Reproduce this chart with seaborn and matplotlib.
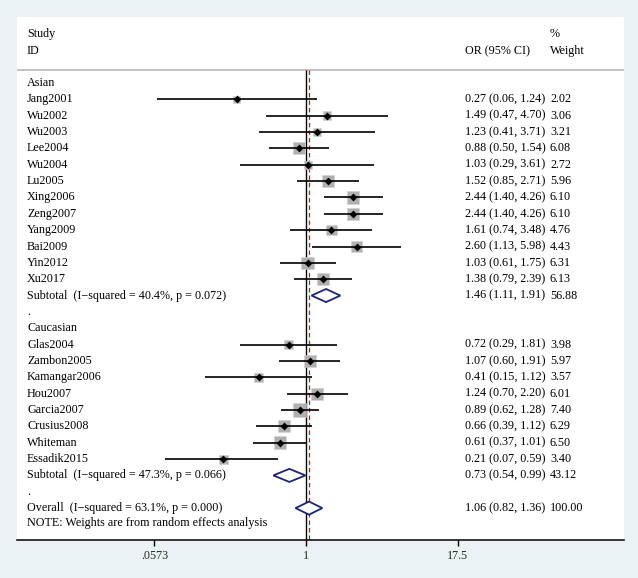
import numpy as np
import pandas as pd
import matplotlib
matplotlib.use("Agg")
import matplotlib.pyplot as plt
import seaborn as sns

# ---------------------------------------------
# Data
# ---------------------------------------------
asian_studies = ["Jang2001", "Wu2002", "Wu2003", "Lee2004", "Wu2004", "Lu2005",
                 "Xing2006", "Zeng2007", "Yang2009", "Bai2009", "Yin2012", "Xu2017"]
asian_or = [0.27, 1.49, 1.23, 0.88, 1.03, 1.52, 2.44, 2.44, 1.61, 2.60, 1.03, 1.38]
asian_lo = [0.06, 0.47, 0.41, 0.50, 0.29, 0.85, 1.40, 1.40, 0.74, 1.13, 0.61, 0.79]
asian_hi = [1.24, 4.70, 3.71, 1.54, 3.61, 2.71, 4.26, 4.26, 3.48, 5.98, 1.75, 2.39]
asian_w = [2.02, 3.06, 3.21, 6.08, 2.72, 5.96, 6.10, 6.10, 4.76, 4.43, 6.31, 6.13]

cauc_studies = ["Glas2004", "Zambon2005", "Kamangar2006", "Hou2007", "Garcia2007",
                "Crusius2008", "Whiteman", "Essadik2015"]
cauc_or = [0.72, 1.07, 0.41, 1.24, 0.89, 0.66, 0.61, 0.21]
cauc_lo = [0.29, 0.60, 0.15, 0.70, 0.62, 0.39, 0.37, 0.07]
cauc_hi = [1.81, 1.91, 1.12, 2.20, 1.28, 1.12, 1.01, 0.59]
cauc_w = [3.98, 5.97, 3.57, 6.01, 7.40, 6.29, 6.50, 3.40]

pooled_labels = ["Subtotal  (I\u2212squared = 40.4%, p = 0.072)",
                 "Subtotal  (I\u2212squared = 47.3%, p = 0.066)",
                 "Overall  (I\u2212squared = 63.1%, p = 0.000)"]
pooled_or = [1.46, 0.73, 1.06]
pooled_lo = [1.11, 0.54, 0.82]
pooled_hi = [1.91, 0.99, 1.36]
pooled_w = [56.88, 43.12, 100.00]

x_ticks = [0.0573, 1, 17.5]
x_ticklabels = [".0573", "1", "17.5"]

# ---------------------------------------------
# Row layout
# ---------------------------------------------
n_a, n_c = len(asian_studies), len(cauc_studies)
asian_rows = list(range(1, 1 + n_a))
sub_a_row = 1 + n_a
cauc_head_row = sub_a_row + 2
cauc_rows = list(range(cauc_head_row + 1, cauc_head_row + 1 + n_c))
sub_c_row = cauc_head_row + 1 + n_c
overall_row = sub_c_row + 2
pooled_rows = [sub_a_row, sub_c_row, overall_row]

studies = pd.DataFrame({
    "study": asian_studies + cauc_studies,
    "OR": asian_or + cauc_or,
    "lo": asian_lo + cauc_lo,
    "hi": asian_hi + cauc_hi,
    "weight": asian_w + cauc_w,
    "row": asian_rows + cauc_rows,
})

# ---------------------------------------------
# Figure
# ---------------------------------------------
sns.set_theme(style="white")
plt.rcParams["font.family"] = ["Liberation Serif", "DejaVu Serif"]
plt.rcParams["font.size"] = 8.7

bg = "#eaf2f3"
fig = plt.figure(figsize=(6.38, 5.78), dpi=100, facecolor=bg)
W, H = 638, 578
left, right, top, bottom = 17, 624, 17, 540
ax = fig.add_axes([left / W, (H - bottom) / H, (right - left) / W, (bottom - top) / H])
ax.set_facecolor("white")

# 53 px per log unit, OR=1 at x=306
px_per = 53.0
ax.set_xscale("log")
ax.set_xlim(np.exp(-(306 - left) / px_per), np.exp((right - 306) / px_per))
row_px = 16.35
ax.set_ylim((bottom - 83) / row_px, -(83 - top) / row_px)

header_y = -0.8
ax.axhline(header_y, color="#b8b8b8", lw=1.2, zorder=1)
ax.vlines(1, header_y, ax.get_ylim()[0], color="black", lw=1.0, zorder=2)
ax.vlines(pooled_or[2], header_y, ax.get_ylim()[0], color="#b01c2e", lw=0.9,
          linestyles=(0, (3.5, 2.5)), zorder=2)

# weight squares (area proportional to weight)
k = 12.45
sns.scatterplot(data=studies, x="OR", y="row", size="weight",
                sizes=(k * studies["weight"].min(), k * studies["weight"].max()),
                size_norm=(studies["weight"].min(), studies["weight"].max()),
                marker="s", color="#b0b0b0", edgecolor="#d0d0d0", linewidth=0.4,
                legend=False, ax=ax, zorder=3)

# confidence intervals
ax.hlines(studies["row"], studies["lo"], studies["hi"], color="black", lw=1.2, zorder=4)

# point estimates
sns.scatterplot(data=studies, x="OR", y="row", marker="D", s=16, color="black",
                edgecolor="black", linewidth=0, legend=False, ax=ax, zorder=5)

# pooled diamonds
for r, est, lo, hi in zip(pooled_rows, pooled_or, pooled_lo, pooled_hi):
    h = 0.4
    ax.fill([lo, est, hi, est, lo], [r, r - h, r, r + h, r], facecolor="white",
            edgecolor="#1c2570", lw=1.3, zorder=5)

# ---------------------------------------------
# Text columns
# ---------------------------------------------
tr = ax.get_yaxis_transform()
x_lab = (27 - left) / (right - left)
x_or = (465 - left) / (right - left)
x_w = (550 - left) / (right - left)
txt = dict(transform=tr, va="center", ha="left", color="black")

ax.text(x_lab, -3.0, "Study", **txt)
ax.text(x_lab, -1.96, "ID", **txt)
ax.text(x_or, -1.96, "OR (95% CI)", **txt)
ax.text(x_w, -3.0, "%", **txt)
ax.text(x_w, -1.96, "Weight", **txt)

ax.text(x_lab, 0, "Asian", **txt)
ax.text(x_lab, cauc_head_row, "Caucasian", **txt)
ax.text(x_lab, sub_a_row + 1, ".", **txt)
ax.text(x_lab, sub_c_row + 1, ".", **txt)

for _, s in studies.iterrows():
    ax.text(x_lab, s["row"], s["study"], **txt)
    ax.text(x_or, s["row"], f"{s['OR']:.2f} ({s['lo']:.2f}, {s['hi']:.2f})", **txt)
    ax.text(x_w, s["row"], f"{s['weight']:.2f}", **txt)

for lab, r, est, lo, hi, w in zip(pooled_labels, pooled_rows, pooled_or,
                                  pooled_lo, pooled_hi, pooled_w):
    ax.text(x_lab, r, lab, **txt)
    ax.text(x_or, r, f"{est:.2f} ({lo:.2f}, {hi:.2f})", **txt)
    ax.text(x_w, r, f"{w:.2f}", **txt)

ax.text(x_lab, overall_row + 0.92, "NOTE: Weights are from random effects analysis", **txt)

# ---------------------------------------------
# Axis styling
# ---------------------------------------------
for side in ["top", "left", "right"]:
    ax.spines[side].set_visible(False)
ax.spines["bottom"].set_color("black")
ax.spines["bottom"].set_linewidth(1.1)
ax.set_yticks([])
ax.set_xticks(x_ticks)
ax.set_xticklabels(x_ticklabels)
ax.xaxis.set_minor_locator(matplotlib.ticker.NullLocator())
ax.tick_params(axis="x", direction="out", length=4.5, width=1.0, color="black",
               bottom=True, labelsize=8.7, pad=3)
ax.set_xlabel("")
ax.set_ylabel("")

fig.savefig("out.png", dpi=100, facecolor=bg)
